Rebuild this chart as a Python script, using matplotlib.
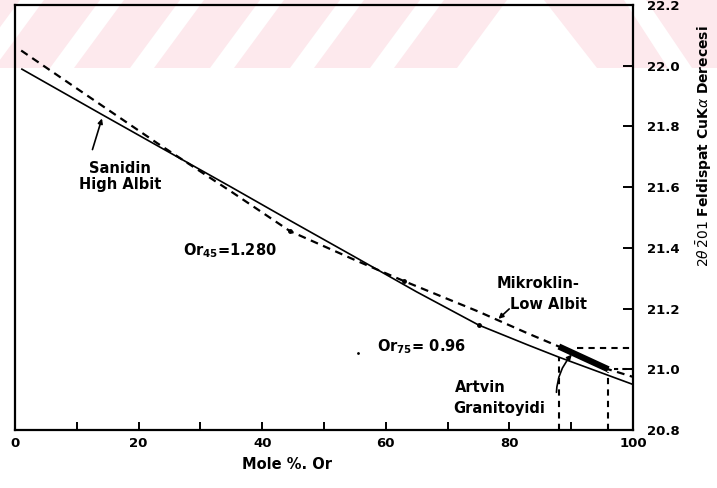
import matplotlib
matplotlib.use("Agg")
import matplotlib.pyplot as plt
from matplotlib.patches import Polygon
from matplotlib.transforms import blended_transform_factory

# High albite - sanidine curve (solid) and low albite - microcline curve (dashed)
high_x = [1, 14, 23, 35, 44.5, 55, 65, 75, 83, 88, 96, 100]
high_y = [21.99, 21.84, 21.737, 21.60, 21.49, 21.37, 21.255, 21.146, 21.08, 21.04, 20.98, 20.95]

low_x = [1, 10, 23, 35, 44.5, 55, 63, 75, 83, 88, 96, 100]
low_y = [22.05, 21.925, 21.745, 21.585, 21.455, 21.36, 21.29, 21.19, 21.118, 21.075, 21.0, 20.975]

# marked points on the curves
dot_x = [44.5, 63, 75]
dot_y = [21.455, 21.29, 21.146]

# Artvin granitoid range
artvin_x = [88, 96]
artvin_y = [21.075, 21.0]

x_ticks = [0, 20, 40, 60, 80, 100]
y_ticks = [20.8, 21.0, 21.2, 21.4, 21.6, 21.8, 22.0, 22.2]

W, H = 717, 488
FONT = "DejaVu Sans"


def px(x, y):
    return (x / W, 1 - y / H)


fig = plt.figure(figsize=(W / 100, H / 100), dpi=100)
fig.patch.set_facecolor("white")

# pink watermark band at the top
pink = "#fde9ed"
fig.add_artist(Polygon([px(0, 0), px(W, 0), px(W, 68), px(0, 68)],
                       closed=True, transform=fig.transFigure,
                       facecolor=pink, edgecolor="none", zorder=0))
for b in [-30, 50, 130, 210, 290, 370]:
    pts = [px(b, 68), px(b + 24, 68), px(b + 74, 0), px(b + 50, 0)]
    fig.add_artist(Polygon(pts, closed=True, transform=fig.transFigure,
                           facecolor="white", edgecolor="none", zorder=0))
fig.add_artist(Polygon([px(457, 68), px(597, 68), px(544, 0), px(507, 0)],
                       closed=True, transform=fig.transFigure,
                       facecolor="white", edgecolor="none", zorder=0))
fig.add_artist(Polygon([px(624, 0), px(646, 0), px(692, 68), px(668, 68)],
                       closed=True, transform=fig.transFigure,
                       facecolor="white", edgecolor="none", zorder=0))

ax = fig.add_axes([15 / W, 1 - 430 / H, (633 - 15) / W, (430 - 5) / H])
ax.set_facecolor("none")
ax.set_zorder(1)

ax.plot(high_x, high_y, color="black", lw=1.2, solid_capstyle="butt")
ax.plot(low_x, low_y, color="black", lw=1.6, linestyle=(0, (3.5, 2.5)))
ax.plot(dot_x, dot_y, "o", color="black", ms=2.5)
ax.plot(artvin_x, artvin_y, color="black", lw=4.5, solid_capstyle="butt")

# reference dashed lines for the Artvin range
ax.plot([88, 88], [20.8, 21.04], color="black", lw=1.5, linestyle=(0, (3, 2.5)))
ax.plot([96, 96], [20.8, 20.99], color="black", lw=1.5, linestyle=(0, (3, 2.5)))
ax.plot([91, 100], [21.07, 21.07], color="black", lw=1.5, linestyle=(0, (3, 2.5)))
ax.plot([97, 100], [21.0, 21.0], color="black", lw=1.5, linestyle=(0, (2, 2)))

ax.set_xlim(0, 100)
ax.set_ylim(20.8, 22.2)

for s in ax.spines.values():
    s.set_linewidth(1.6)

ax.set_xticks(x_ticks)
ax.set_xticks(range(10, 100, 10), minor=True)
ax.set_xticklabels([str(t) for t in x_ticks])
ax.tick_params(axis="x", which="both", direction="in", length=6, width=1.4,
               top=False, pad=5)
ax.yaxis.tick_right()
ax.set_yticks(y_ticks)
ax.set_yticklabels(["%.1f" % t for t in y_ticks])
ax.tick_params(axis="y", which="both", direction="in", length=7, width=1.4,
               left=False, right=True, pad=10)
for lab in ax.get_xticklabels() + ax.get_yticklabels():
    lab.set_fontfamily(FONT)
    lab.set_fontweight("bold")
    lab.set_fontsize(9.5)

tk = dict(fontfamily=FONT, fontweight="bold", fontsize=10.5, color="black")

# annotations
ax.annotate("", xy=(14.2, 21.835), xytext=(12.4, 21.715),
            arrowprops=dict(arrowstyle="-|>", color="black", lw=1.2,
                            mutation_scale=7))
ax.text(17, 21.66, "Sanidin", ha="center", va="center", **tk)
ax.text(17, 21.608, "High Albit", ha="center", va="center", **tk)

ax.text(27.2, 21.39, r"Or$_{\mathbf{45}}$=1.280", ha="left", va="center", **tk)
ax.text(58.6, 21.073, r"Or$_{\mathbf{75}}$= 0.96", ha="left", va="center", **tk)
ax.plot([55.5], [21.054], ".", color="black", ms=2)

ax.text(78, 21.284, "Mikroklin-", ha="left", va="center", **tk)
ax.text(80.1, 21.212, "Low Albit", ha="left", va="center", **tk)
ax.annotate("", xy=(77.9, 21.16), xytext=(80.3, 21.205),
            arrowprops=dict(arrowstyle="-|>", color="black", lw=1.2,
                            mutation_scale=7))

ax.text(71.2, 20.94, "Artvin", ha="left", va="center", **tk)
ax.text(70.9, 20.872, "Granitoyidi", ha="left", va="center", **tk)
ax.annotate("", xy=(90.4, 21.055), xytext=(87.6, 20.915),
            arrowprops=dict(arrowstyle="-|>", color="black", lw=1.2,
                            mutation_scale=7,
                            connectionstyle="arc3,rad=-0.2"))

trans = blended_transform_factory(ax.transData, ax.transAxes)
ax.text(44, -0.082, "Mole %. Or", transform=trans, ha="center", va="center",
        **tk)

fig.text(704 / W, 1 - 146 / H,
         r"$2\theta\,\bar{2}01$ Feldispat CuK$\alpha$ Derecesi",
         rotation=90, ha="center", va="center",
         **dict(tk, fontsize=10))

fig.savefig("out.png", dpi=100)
